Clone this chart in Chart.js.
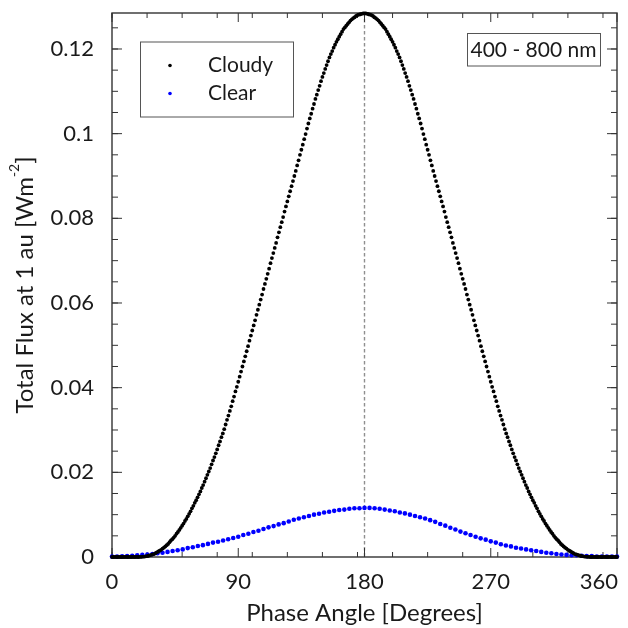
<!DOCTYPE html>
<html>
<head>
<meta charset="utf-8">
<script src="https://cdn.jsdelivr.net/npm/chart.js@4.4.0/dist/chart.umd.min.js"></script>
<style>
body{margin:0;background:#fff;}
</style>
</head>
<body>
<canvas id="phase-chart" width="628" height="628"></canvas>
<script>
// phase angle sampling (degrees) of each series
const cloudyStep = 1;
const clearStep = 3.6;

// total flux at 1 au [W m^-2]
const cloudyFlux = [
	0,0,0,0,0,0,0,0,0,0,
	0,0,0,0,0,0,0,0,0,0,
	0.00002,0.00004,0.00007,0.0001,0.00015,0.0002,0.0003,0.0004,0.0005,0.0006,
	0.0007,0.0009,0.0011,0.0013,0.0015,0.0017,0.0020,0.0022,0.0025,0.0028,
	0.0031,0.0035,0.0039,0.0042,0.0046,0.0050,0.0055,0.0059,0.0064,0.0069,
	0.0074,0.0079,0.0085,0.0090,0.0096,0.0102,0.0108,0.0115,0.0121,0.0128,
	0.0134,0.0141,0.0148,0.0155,0.0163,0.0170,0.0178,0.0186,0.0194,0.0202,
	0.0210,0.0219,0.0228,0.0236,0.0245,0.0254,0.0264,0.0273,0.0283,0.0292,
	0.0302,0.0313,0.0324,0.0334,0.0345,0.0356,0.0368,0.0379,0.0391,0.0402,
	0.0414,0.0426,0.0438,0.0450,0.0462,0.0474,0.0486,0.0498,0.0511,0.0523,
	0.0535,0.0547,0.0559,0.0572,0.0584,0.0596,0.0608,0.0620,0.0633,0.0645,
	0.0657,0.0669,0.0681,0.0694,0.0706,0.0718,0.0730,0.0742,0.0755,0.0767,
	0.0779,0.0791,0.0803,0.0816,0.0828,0.0840,0.0852,0.0864,0.0876,0.0888,
	0.0900,0.0912,0.0925,0.0937,0.0950,0.0962,0.0974,0.0987,0.0999,0.1012,
	0.1024,0.1036,0.1047,0.1059,0.1070,0.1082,0.1092,0.1103,0.1113,0.1124,
	0.1134,0.1143,0.1153,0.1162,0.1171,0.1180,0.1188,0.1195,0.1203,0.1210,
	0.1217,0.1223,0.1229,0.1235,0.1241,0.1247,0.1251,0.1255,0.1259,0.1263,
	0.1267,0.1270,0.1273,0.1275,0.1278,0.1280,0.1281,0.1282,0.1283,0.1284,
	0.1284,
	0.1284,0.1283,0.1282,0.1281,0.1280,0.1278,0.1275,0.1273,0.1270,0.1267,
	0.1263,0.1259,0.1255,0.1251,0.1247,0.1241,0.1235,0.1229,0.1223,0.1217,
	0.1210,0.1203,0.1195,0.1188,0.1180,0.1171,0.1162,0.1153,0.1143,0.1134,
	0.1124,0.1113,0.1103,0.1092,0.1082,0.1070,0.1059,0.1047,0.1036,0.1024,
	0.1012,0.0999,0.0987,0.0974,0.0962,0.0950,0.0937,0.0925,0.0912,0.0900,
	0.0888,0.0876,0.0864,0.0852,0.0840,0.0828,0.0816,0.0803,0.0791,0.0779,
	0.0767,0.0755,0.0742,0.0730,0.0718,0.0706,0.0694,0.0681,0.0669,0.0657,
	0.0645,0.0633,0.0620,0.0608,0.0596,0.0584,0.0572,0.0559,0.0547,0.0535,
	0.0523,0.0511,0.0498,0.0486,0.0474,0.0462,0.0450,0.0438,0.0426,0.0414,
	0.0402,0.0391,0.0379,0.0368,0.0356,0.0345,0.0334,0.0324,0.0313,0.0302,
	0.0292,0.0283,0.0273,0.0264,0.0254,0.0245,0.0236,0.0228,0.0219,0.0210,
	0.0202,0.0194,0.0186,0.0178,0.0170,0.0163,0.0155,0.0148,0.0141,0.0134,
	0.0128,0.0121,0.0115,0.0108,0.0102,0.0096,0.0090,0.0085,0.0079,0.0074,
	0.0069,0.0064,0.0059,0.0055,0.0050,0.0046,0.0042,0.0039,0.0035,0.0031,
	0.0028,0.0025,0.0022,0.0020,0.0017,0.0015,0.0013,0.0011,0.0009,0.0007,
	0.0006,0.0005,0.0004,0.0003,0.0002,0.00015,0.0001,0.00007,0.00004,0.00002,
	0,0,0,0,0,0,0,0,0,0,
	0,0,0,0,0,0,0,0,0,0
];
const clearFlux = [
	0.0001,0.0001,0.00015,0.0002,0.0003,0.0004,0.0005,0.0006,0.0007,0.0009,
	0.0010,0.0012,0.0014,0.0016,0.0018,0.0021,0.0023,0.0026,0.0028,0.0031,
	0.0034,0.0036,0.0039,0.0042,0.0045,0.0048,0.0052,0.0055,0.0059,0.0062,
	0.0066,0.0070,0.0073,0.0077,0.0080,0.0084,0.0088,0.0091,0.0094,0.0097,
	0.0100,0.0102,0.0105,0.0107,0.0109,0.0111,0.0112,0.0114,0.0115,0.0115,
	0.0116,
	0.0116,0.0115,0.0114,0.0112,0.0110,0.0108,0.0105,0.0103,0.0100,0.0097,
	0.0094,0.0091,0.0087,0.0083,0.0078,0.0074,0.0069,0.0065,0.0060,0.0056,
	0.0052,0.0048,0.0044,0.0041,0.0037,0.0034,0.0030,0.0027,0.0025,0.0022,
	0.0020,0.0018,0.0016,0.0014,0.0012,0.0010,0.0009,0.0007,0.0006,0.0005,
	0.0004,0.0004,0.0003,0.0002,0.0002,0.0001,0.0001,0.0001,0.0001,0.0001
];

const seriesNames = ['Cloudy', 'Clear'];
const seriesColors = ['#000000', '#0000ff'];
const bandLabel = '400 - 800 nm';
const markAngle = 180;
const xTitle = 'Phase Angle [Degrees]';

const xTicks = [0, 90, 180, 270, 360];
const xMinorTicks = [0,25,50,75,100,125,150,175,200,225,250,275,300,325,350];
const yTicks = [0, 0.02, 0.04, 0.06, 0.08, 0.1, 0.12];
const yMinorTicks = [0,0.005,0.01,0.015,0.02,0.025,0.03,0.035,0.04,0.045,0.05,0.055,0.06,
	0.065,0.07,0.075,0.08,0.085,0.09,0.095,0.1,0.105,0.11,0.115,0.12,0.125];
const yMax = 0.1285;

const textColor = '#1a1a1a';
const axisColor = '#333333';
Chart.defaults.font.family = 'Lato';
Chart.defaults.color = textColor;

const framePlugin = {
	id: 'frame',
	beforeDatasetsDraw(chart) {
		const {ctx, chartArea: a, scales: {x, y}} = chart;
		ctx.save();
		// dashed marker at full phase
		const px = x.getPixelForValue(markAngle);
		ctx.strokeStyle = '#8f8f8f';
		ctx.lineWidth = 1.4;
		ctx.setLineDash([3.5, 2.5]);
		ctx.beginPath();
		ctx.moveTo(px, a.top);
		ctx.lineTo(px, a.bottom);
		ctx.stroke();
		ctx.setLineDash([]);

		// box and inward ticks on all four sides
		ctx.strokeStyle = axisColor;
		ctx.lineWidth = 1.4;
		ctx.strokeRect(a.left, a.top, a.right - a.left, a.bottom - a.top);
		ctx.lineWidth = 1;
		const tick = (x1, y1, x2, y2) => { ctx.beginPath(); ctx.moveTo(x1, y1); ctx.lineTo(x2, y2); ctx.stroke(); };
		xMinorTicks.forEach(v => {
			const p = x.getPixelForValue(v);
			tick(p, a.bottom, p, a.bottom - 5);
			tick(p, a.top, p, a.top + 5);
		});
		xTicks.forEach(v => {
			const p = x.getPixelForValue(v);
			tick(p, a.bottom, p, a.bottom - 9);
			tick(p, a.top, p, a.top + 9);
		});
		yMinorTicks.forEach(v => {
			const p = y.getPixelForValue(v);
			tick(a.left, p, a.left + 6, p);
			tick(a.right, p, a.right - 6, p);
		});
		yTicks.forEach(v => {
			const p = y.getPixelForValue(v);
			tick(a.left, p, a.left + 10, p);
			tick(a.right, p, a.right - 10, p);
		});

		// x tick labels (last one kept inside the canvas) and x title
		ctx.fillStyle = textColor;
		ctx.font = '22px Lato';
		ctx.textBaseline = 'alphabetic';
		xTicks.forEach((v, i) => {
			const p = x.getPixelForValue(v);
			ctx.textAlign = i === xTicks.length - 1 ? 'right' : 'center';
			ctx.fillText(String(v), i === xTicks.length - 1 ? p + 1 : p, a.bottom + 32);
		});
		ctx.font = '24px Lato';
		ctx.textAlign = 'center';
		ctx.fillText(xTitle, (a.left + a.right) / 2, a.bottom + 64);
		ctx.restore();
	},
	afterDatasetsDraw(chart) {
		const {ctx, chartArea: a} = chart;
		ctx.save();
		// legend
		const lx = a.left + 28, ly = a.top + 28.5;
		ctx.fillStyle = '#fff';
		ctx.fillRect(lx, ly, 153, 75);
		ctx.strokeStyle = '#555';
		ctx.lineWidth = 1;
		ctx.strokeRect(lx + 0.5, ly + 0.5, 153, 75);
		ctx.font = '21px Lato';
		ctx.textBaseline = 'middle';
		ctx.textAlign = 'left';
		seriesNames.forEach((name, i) => {
			const cy = ly + 24 + i * 28;
			ctx.fillStyle = seriesColors[i];
			ctx.beginPath();
			ctx.arc(lx + 30, cy, 1.8, 0, Math.PI * 2);
			ctx.fill();
			ctx.fillStyle = textColor;
			ctx.fillText(name, lx + 68, cy);
		});

		// wavelength band label
		const bw = 133, bh = 32.5;
		const bx = a.right - 17 - bw, by = a.top + 20;
		ctx.strokeRect(bx + 0.5, by + 0.5, bw, bh);
		ctx.textAlign = 'center';
		ctx.fillText(bandLabel, bx + bw / 2, by + bh / 2 + 1);

		// y axis title with superscript
		const main = 'Total Flux at 1 au [Wm', sup = '-2', close = ']';
		ctx.font = '24px Lato';
		const w1 = ctx.measureText(main).width, w3 = ctx.measureText(close).width;
		ctx.font = '14px Lato';
		const w2 = ctx.measureText(sup).width;
		const total = w1 + w2 + w3;
		ctx.translate(33, (a.top + a.bottom) / 2);
		ctx.rotate(-Math.PI / 2);
		ctx.textAlign = 'left';
		ctx.textBaseline = 'alphabetic';
		ctx.fillStyle = textColor;
		ctx.font = '24px Lato';
		ctx.fillText(main, -total / 2, 0);
		ctx.font = '14px Lato';
		ctx.fillText(sup, -total / 2 + w1, -14);
		ctx.font = '24px Lato';
		ctx.fillText(close, -total / 2 + w1 + w2, 0);
		ctx.restore();
	}
};

const ctx = document.getElementById('phase-chart');
new Chart(ctx, {
	type: 'scatter',
	data: {
		datasets: [{
			label: seriesNames[0],
			data: cloudyFlux.map((v, i) => ({x: i * cloudyStep, y: v})),
			pointRadius: 1.9,
			backgroundColor: seriesColors[0],
			borderColor: seriesColors[0],
			borderWidth: 0,
			clip: false
		}, {
			label: seriesNames[1],
			data: clearFlux.map((v, i) => ({x: i * clearStep, y: v})),
			pointRadius: 2.3,
			backgroundColor: seriesColors[1],
			borderColor: seriesColors[1],
			borderWidth: 0,
			clip: false
		}]
	},
	options: {
		responsive: false,
		animation: false,
		devicePixelRatio: 1,
		layout: {padding: {top: 13, right: 11, left: 0, bottom: 0}},
		plugins: {legend: {display: false}, tooltip: {enabled: false}},
		scales: {
			x: {
				type: 'linear', min: 0, max: 360,
				grid: {display: false}, border: {display: false},
				afterBuildTicks: s => { s.ticks = xTicks.map(v => ({value: v})); },
				afterFit: s => { s.height = 71; s.paddingLeft = 0; s.paddingRight = 0; },
				ticks: {display: false}
			},
			y: {
				type: 'linear', min: 0, max: yMax,
				grid: {display: false}, border: {display: false},
				afterBuildTicks: s => { s.ticks = yTicks.map(v => ({value: v})); },
				afterFit: s => { s.width = 112; s.paddingTop = 0; s.paddingBottom = 0; },
				ticks: {autoSkip: false, padding: 10, font: {size: 22}, color: textColor,
					callback: v => String(+v.toFixed(3))}
			}
		}
	},
	plugins: [framePlugin]
});
</script>
</body>
</html>
